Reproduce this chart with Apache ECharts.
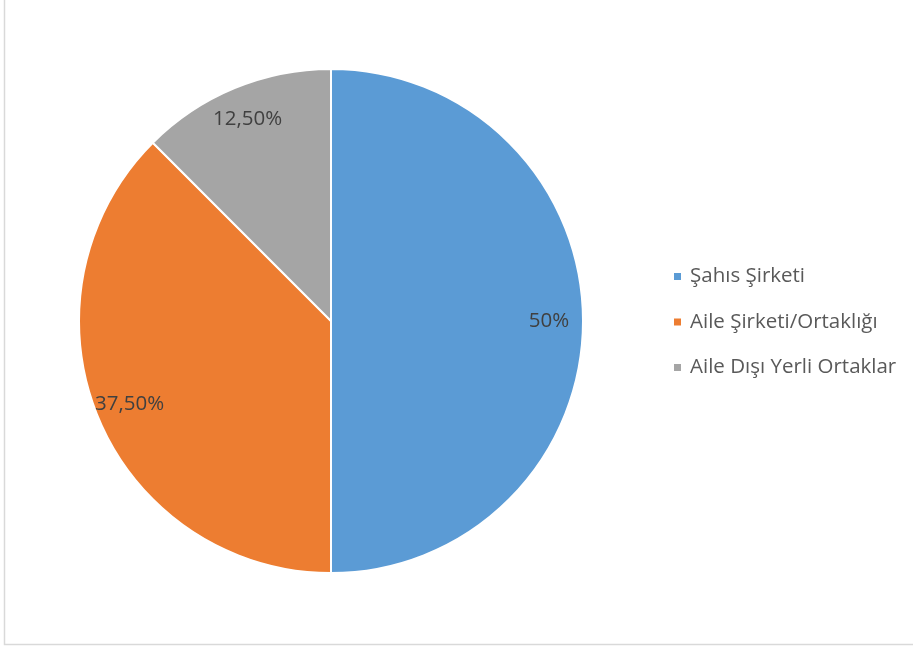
<!DOCTYPE html>
<html>
<head>
<meta charset="utf-8">
<script src="https://cdn.jsdelivr.net/npm/echarts@6/dist/echarts.min.js"></script>
<style>html,body{margin:0;padding:0;background:#fff;}#c{width:913px;height:647px;}</style>
</head>
<body>
<div id="c"></div>
<script>
const categories = ['Şahıs Şirketi', 'Aile Şirketi/Ortaklığı', 'Aile Dışı Yerli Ortaklar'];
const values = [50, 37.5, 12.5];
const labels = ['50%', '37,50%', '12,50%'];
const colors = ['#5B9BD5', '#ED7D31', '#A5A5A5'];

const font = 'Open Sans';
const chart = echarts.init(document.getElementById('c'), null, {renderer: 'canvas'});
const data = categories.map((n, i) => ({name: n, value: values[i], itemStyle: {color: colors[i]}}));
chart.setOption({
  animation: false,
  graphic: [{
    type: 'rect', silent: true, z: -10,
    shape: {x: 4.5, y: -10, width: 940, height: 654.5},
    style: {fill: 'none', stroke: '#d9d9d9', lineWidth: 1.5}
  }],
  legend: {
    orient: 'vertical', left: 672, top: 266, padding: 0,
    icon: 'rect', itemWidth: 9, itemHeight: 9, itemGap: 24.5,
    data: categories,
    textStyle: {fontFamily: font, fontSize: 20.5, color: '#595959', lineHeight: 21, padding: [0, 0, 0, 3]}
  },
  series: [{
    type: 'pie', center: [331, 321], radius: [0, 252],
    startAngle: 90, clockwise: true,
    itemStyle: {borderColor: '#fff', borderWidth: 2},
    label: {show: false}, labelLine: {show: false},
    emphasis: {disabled: true},
    data: data
  }, {
    type: 'pie', center: [331, 321], radius: [0, 430],
    startAngle: 90, clockwise: true, silent: true,
    itemStyle: {color: 'rgba(0,0,0,0)', borderWidth: 0},
    label: {
      show: true, position: 'inside',
      fontFamily: font, fontSize: 20.5, color: '#404040',
      formatter: p => labels[p.dataIndex]
    },
    labelLine: {show: false},
    emphasis: {disabled: true},
    data: categories.map((n, i) => ({name: n, value: values[i], itemStyle: {color: 'rgba(0,0,0,0)'}}))
  }]
});
</script>
</body>
</html>
